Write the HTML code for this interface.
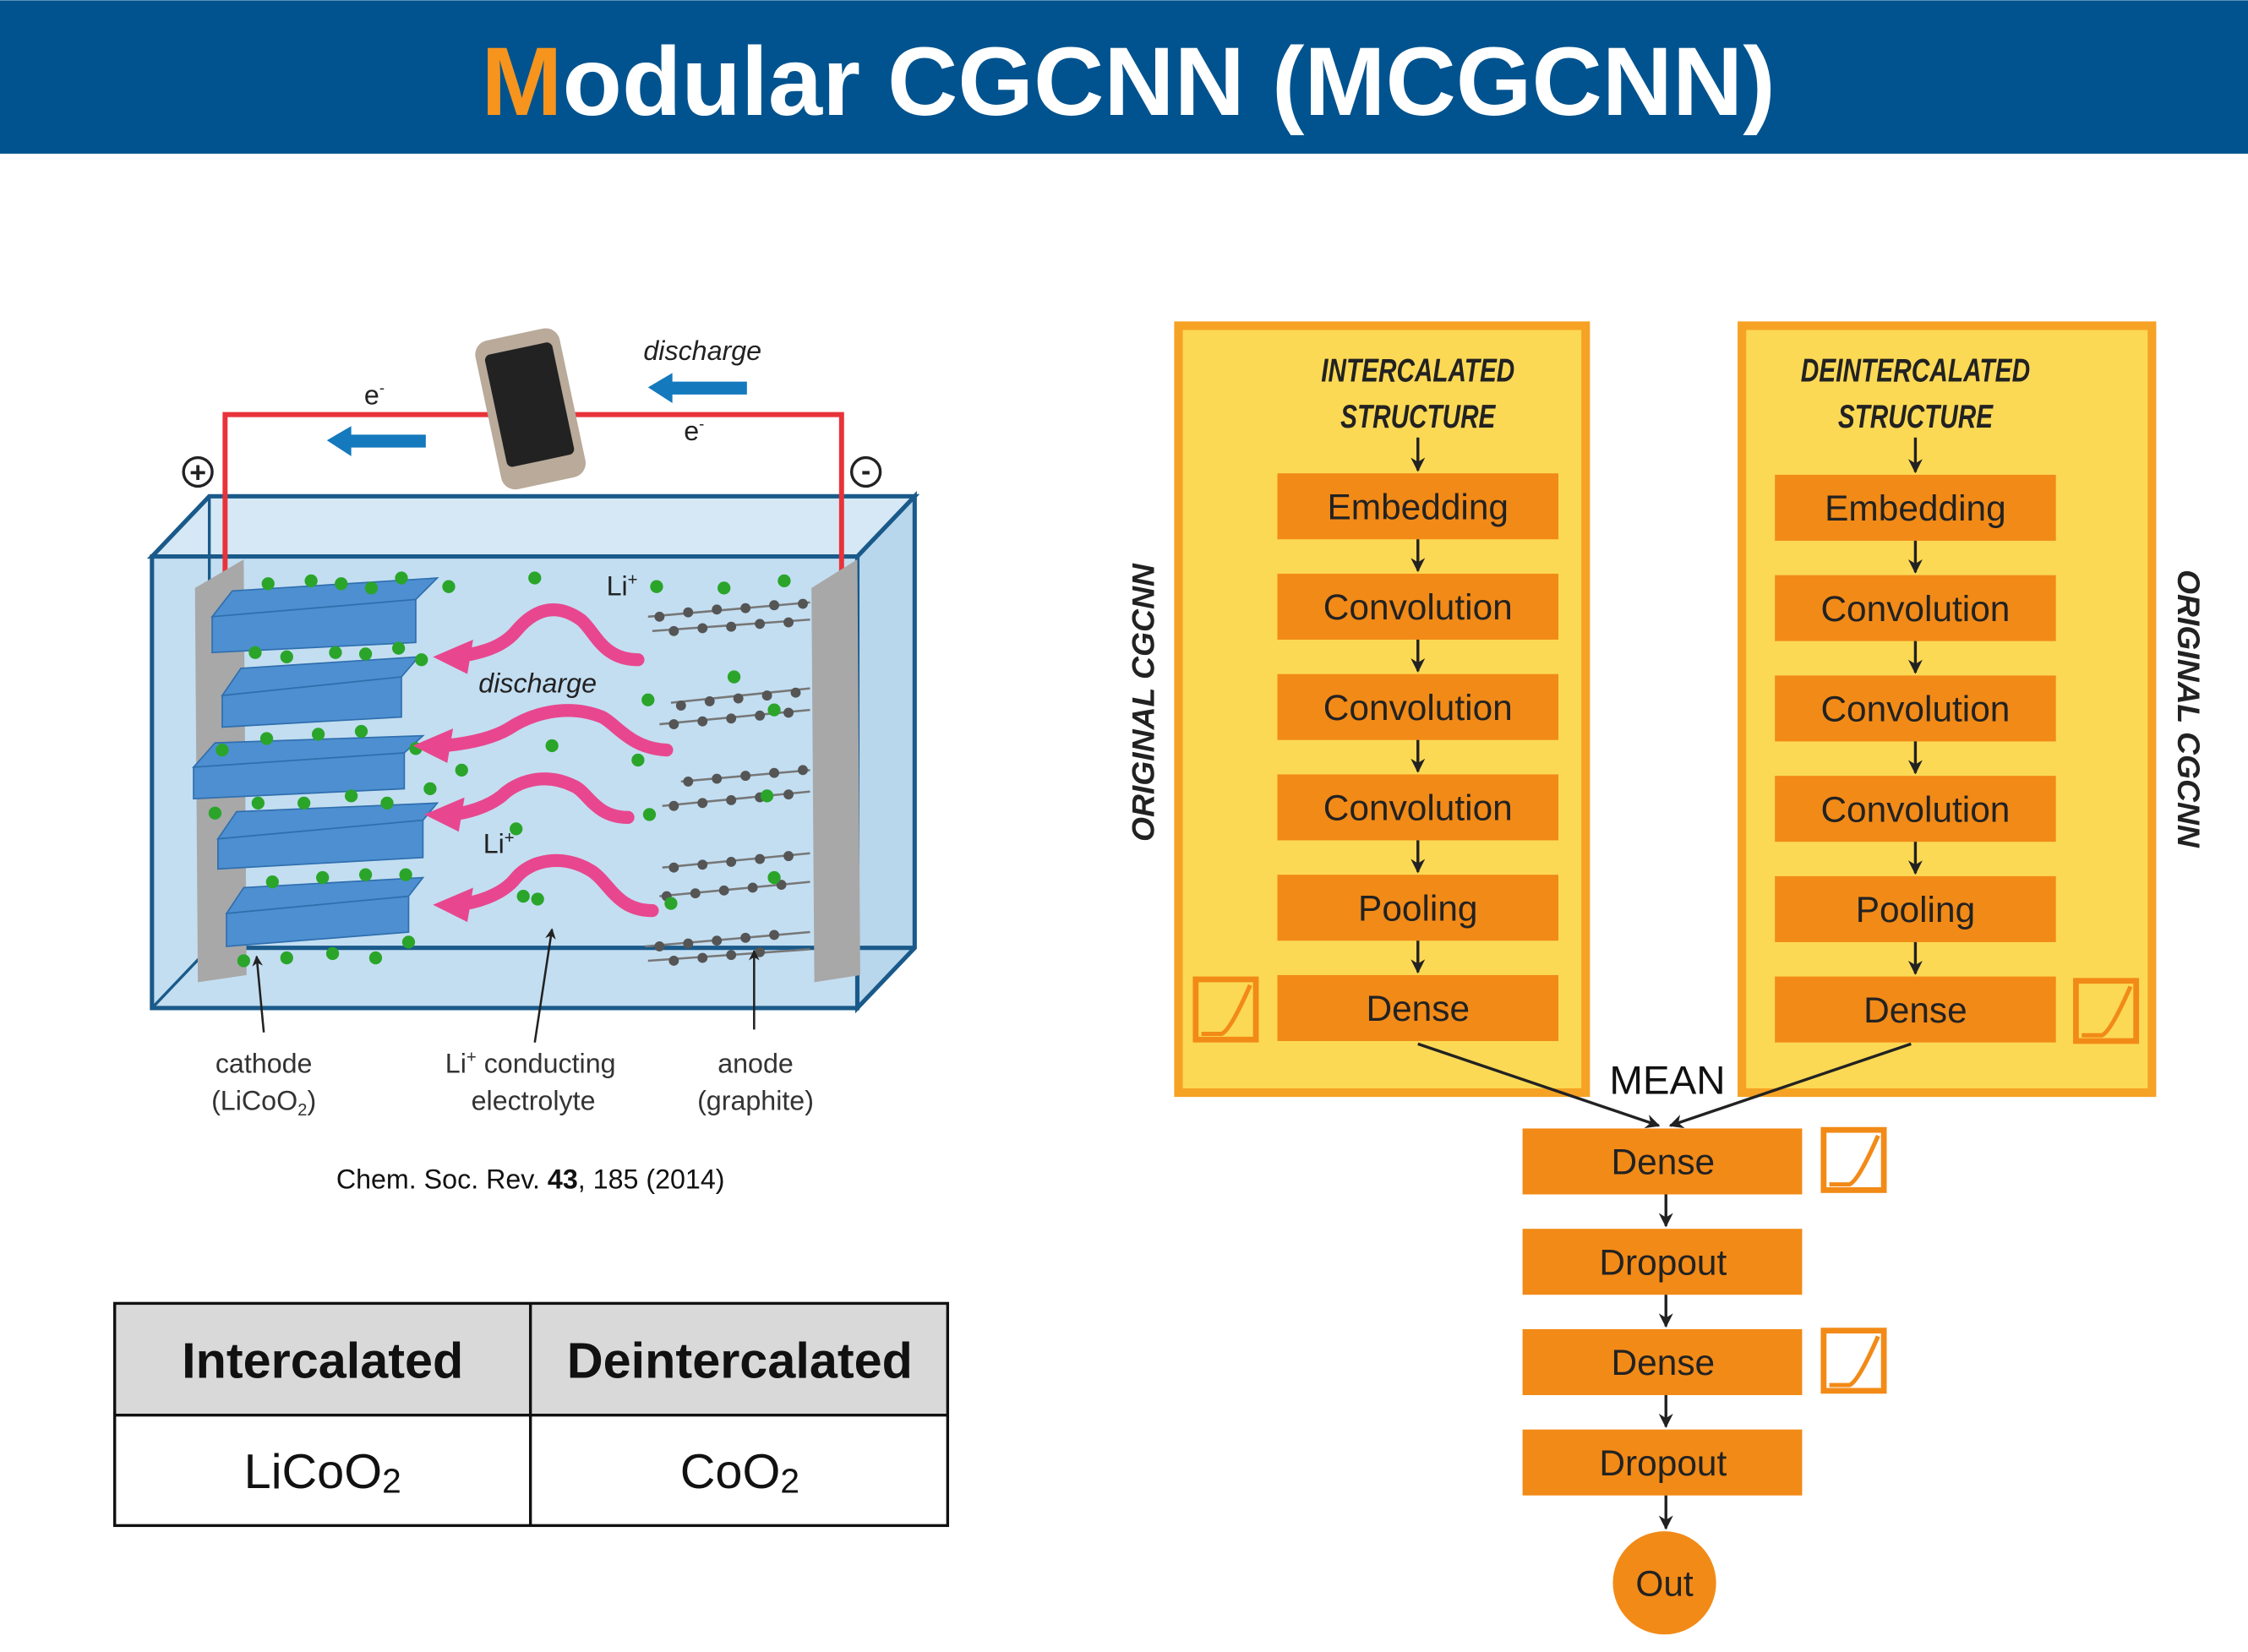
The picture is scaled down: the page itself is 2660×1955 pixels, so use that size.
<!DOCTYPE html>
<html><head><meta charset="utf-8"><style>
html,body{margin:0;padding:0;background:#fff;}
svg{display:block;}
text{font-family:"Liberation Sans",sans-serif;}
.blk{fill:#f28a17;}
.bt{font-size:25px;fill:#222;text-anchor:middle;}
.arr{stroke:#222;stroke-width:2;}
.act{fill:none;stroke:#f28a17;stroke-width:4;}
.actc{fill:none;stroke:#f28a17;stroke-width:3;}
</style></head><body>
<svg width="2660" height="1955" viewBox="0 0 1568 1152" xmlns="http://www.w3.org/2000/svg">
<defs>
<marker id="ah" viewBox="0 0 10 10" refX="9" refY="5" markerWidth="5" markerHeight="5" orient="auto"><path d="M0,0 L10,5 L0,10 L3,5 z" fill="#222"/></marker>
</defs>
<rect x="0" y="0" width="1568" height="107" fill="#00538f"/>
<text x="787" y="80" text-anchor="middle" font-size="68" font-weight="bold" fill="#fff"><tspan fill="#f7941d">M</tspan>odular CGCNN (MCGCNN)</text>

<g>
<polygon points="106,388 146,346 638,346 598,388" fill="#d6e8f5" stroke="#1a5a8a" stroke-width="3"/>
<polygon points="598,388 638,346 638,661 598,703" fill="#b8d6ec" stroke="#1a5a8a" stroke-width="3"/>
<rect x="106" y="388" width="492" height="315" fill="#c3def1" stroke="#1a5a8a" stroke-width="3"/>
<line x1="146" y1="346" x2="146" y2="661" stroke="#1a5a8a" stroke-width="2"/>
<line x1="146" y1="661" x2="638" y2="661" stroke="#1a5a8a" stroke-width="3"/>
<line x1="106" y1="703" x2="146" y2="661" stroke="#1a5a8a" stroke-width="2"/>
<polyline points="157,400 157,289 587,289 587,400" fill="none" stroke="#e8333a" stroke-width="3.5"/>
<polygon points="136,410 170,390 172,680 138,685" fill="#a8a8a8"/>
<polygon points="566,410 598,390 600,680 568,685" fill="#a8a8a8"/>
<g fill="#4d8fd1" stroke="#2f6fae" stroke-width="1">
<polygon points="148,430 290,418 305,403 162,412"/><polygon points="148,430 290,418 290,448 148,455"/>
<polygon points="155,485 280,472 292,458 168,466"/><polygon points="155,485 280,472 280,500 155,507"/>
<polygon points="135,535 282,525 295,513 150,518"/><polygon points="135,535 282,525 282,550 135,557"/>
<polygon points="152,585 295,572 305,560 165,566"/><polygon points="152,585 295,572 295,598 152,606"/>
<polygon points="158,637 285,625 295,612 170,619"/><polygon points="158,637 285,625 285,650 158,660"/>
</g>
<g stroke="#777" stroke-width="1.5" fill="none">
<path d="M452,430 L565,420 M455,440 L565,432 M468,490 L565,480 M460,505 L565,495 M475,545 L565,537 M462,562 L565,552 M462,605 L565,595 M460,625 L565,615 M450,660 L565,650 M452,670 L565,662"/>
</g>
<g fill="#555">
<circle cx="460" cy="430" r="3.5"/><circle cx="480" cy="427" r="3.5"/><circle cx="500" cy="425" r="3.5"/><circle cx="520" cy="424" r="3.5"/><circle cx="540" cy="422" r="3.5"/><circle cx="560" cy="421" r="3.5"/>
<circle cx="470" cy="440" r="3.5"/><circle cx="490" cy="438" r="3.5"/><circle cx="510" cy="437" r="3.5"/><circle cx="530" cy="435" r="3.5"/><circle cx="550" cy="434" r="3.5"/>
<circle cx="475" cy="492" r="3.5"/><circle cx="495" cy="489" r="3.5"/><circle cx="515" cy="487" r="3.5"/><circle cx="535" cy="485" r="3.5"/><circle cx="555" cy="483" r="3.5"/>
<circle cx="470" cy="505" r="3.5"/><circle cx="490" cy="503" r="3.5"/><circle cx="510" cy="501" r="3.5"/><circle cx="530" cy="499" r="3.5"/><circle cx="550" cy="497" r="3.5"/>
<circle cx="480" cy="545" r="3.5"/><circle cx="500" cy="543" r="3.5"/><circle cx="520" cy="541" r="3.5"/><circle cx="540" cy="539" r="3.5"/><circle cx="560" cy="537" r="3.5"/>
<circle cx="470" cy="562" r="3.5"/><circle cx="490" cy="560" r="3.5"/><circle cx="510" cy="558" r="3.5"/><circle cx="530" cy="556" r="3.5"/><circle cx="550" cy="554" r="3.5"/>
<circle cx="470" cy="605" r="3.5"/><circle cx="490" cy="603" r="3.5"/><circle cx="510" cy="601" r="3.5"/><circle cx="530" cy="599" r="3.5"/><circle cx="550" cy="597" r="3.5"/>
<circle cx="465" cy="625" r="3.5"/><circle cx="485" cy="623" r="3.5"/><circle cx="505" cy="621" r="3.5"/><circle cx="525" cy="619" r="3.5"/><circle cx="545" cy="617" r="3.5"/>
<circle cx="460" cy="660" r="3.5"/><circle cx="480" cy="658" r="3.5"/><circle cx="500" cy="656" r="3.5"/><circle cx="520" cy="654" r="3.5"/><circle cx="540" cy="652" r="3.5"/>
<circle cx="470" cy="670" r="3.5"/><circle cx="490" cy="668" r="3.5"/><circle cx="510" cy="666" r="3.5"/><circle cx="530" cy="664" r="3.5"/>
</g>
<g fill="#2aa52a">
<circle cx="187" cy="407" r="4.5"/><circle cx="217" cy="405" r="4.5"/><circle cx="238" cy="407" r="4.5"/><circle cx="259" cy="410" r="4.5"/><circle cx="280" cy="403" r="4.5"/><circle cx="313" cy="409" r="4.5"/><circle cx="373" cy="403" r="4.5"/><circle cx="458" cy="409" r="4.5"/>
<circle cx="178" cy="455" r="4.5"/><circle cx="200" cy="458" r="4.5"/><circle cx="234" cy="455" r="4.5"/><circle cx="255" cy="456" r="4.5"/><circle cx="278" cy="452" r="4.5"/><circle cx="294" cy="460" r="4.5"/>
<circle cx="186" cy="515" r="4.5"/><circle cx="222" cy="512" r="4.5"/><circle cx="252" cy="510" r="4.5"/><circle cx="290" cy="522" r="4.5"/><circle cx="322" cy="537" r="4.5"/><circle cx="385" cy="520" r="4.5"/>
<circle cx="155" cy="523" r="4.5"/><circle cx="180" cy="560" r="4.5"/><circle cx="212" cy="560" r="4.5"/><circle cx="245" cy="555" r="4.5"/><circle cx="270" cy="560" r="4.5"/><circle cx="300" cy="550" r="4.5"/>
<circle cx="150" cy="567" r="4.5"/><circle cx="190" cy="615" r="4.5"/><circle cx="225" cy="612" r="4.5"/><circle cx="255" cy="610" r="4.5"/><circle cx="283" cy="610" r="4.5"/><circle cx="360" cy="578" r="4.5"/><circle cx="365" cy="625" r="4.5"/>
<circle cx="170" cy="670" r="4.5"/><circle cx="200" cy="668" r="4.5"/><circle cx="232" cy="665" r="4.5"/><circle cx="262" cy="668" r="4.5"/><circle cx="285" cy="657" r="4.5"/><circle cx="375" cy="627" r="4.5"/>
<circle cx="452" cy="488" r="4.5"/><circle cx="445" cy="530" r="4.5"/><circle cx="453" cy="568" r="4.5"/><circle cx="468" cy="630" r="4.5"/><circle cx="512" cy="472" r="4.5"/><circle cx="540" cy="495" r="4.5"/><circle cx="535" cy="555" r="4.5"/><circle cx="540" cy="612" r="4.5"/><circle cx="505" cy="410" r="4.5"/><circle cx="547" cy="405" r="4.5"/>
</g>
<g fill="none" stroke="#e8478f" stroke-width="9" stroke-linecap="round">
<path d="M445,460 C420,460 415,440 405,432 C385,418 370,428 360,440 C350,452 335,455 320,458"/>
<path d="M465,523 C440,522 430,505 420,500 C395,490 370,498 355,508 C345,514 330,518 310,520"/>
<path d="M438,570 C415,570 410,552 400,548 C380,538 360,545 350,555 C340,563 325,567 315,568"/>
<path d="M455,635 C430,635 425,615 412,607 C392,595 370,600 360,612 C350,625 330,630 318,631"/>
</g>
<g fill="#e8478f">
<polygon points="302,458 330,446 326,470"/><polygon points="288,520 316,508 312,532"/><polygon points="296,568 324,556 320,580"/><polygon points="302,631 330,619 326,643"/>
</g>
<text x="375" y="483" text-anchor="middle" font-size="19" font-style="italic" fill="#222">discharge</text>
<text x="423" y="415" font-size="19" fill="#222">Li<tspan font-size="12" dy="-7">+</tspan></text>
<text x="337" y="595" font-size="19" fill="#222">Li<tspan font-size="12" dy="-7">+</tspan></text>
<g>
<rect x="340" y="232" width="60" height="106" rx="10" fill="#b9aa9a" transform="rotate(-12 370 285)"/>
<rect x="346" y="242" width="48" height="80" rx="4" fill="#222" transform="rotate(-12 370 285)"/>
</g>
<polygon points="228,307 245,297 245,303 297,303 297,312 245,312 245,318" fill="#1479bd"/>
<polygon points="452,270 469,260 469,266 521,266 521,275 469,275 469,281" fill="#1479bd"/>
<text x="490" y="251" text-anchor="middle" font-size="19" font-style="italic" fill="#222">discharge</text>
<text x="254" y="282" font-size="19" fill="#222">e<tspan font-size="11" dy="-8">-</tspan></text>
<text x="477" y="307" font-size="19" fill="#222">e<tspan font-size="11" dy="-8">-</tspan></text>
<circle cx="138" cy="329" r="10" fill="#fff" stroke="#222" stroke-width="2"/><text x="138" y="336" text-anchor="middle" font-size="20" font-weight="bold" fill="#222">+</text>
<circle cx="604" cy="329" r="10" fill="#fff" stroke="#222" stroke-width="2"/><text x="604" y="335" text-anchor="middle" font-size="20" font-weight="bold" fill="#222">-</text>
<g stroke="#222" stroke-width="1.5" marker-end="url(#ah)">
<line x1="184" y1="720" x2="179" y2="667"/><line x1="373" y1="727" x2="385" y2="648"/><line x1="526" y1="718" x2="526" y2="663"/>
</g>
<text x="184" y="748" text-anchor="middle" font-size="19" fill="#333">cathode</text>
<text x="184" y="774" text-anchor="middle" font-size="19" fill="#333">(LiCoO<tspan font-size="12" dy="4">2</tspan><tspan dy="-4">)</tspan></text>
<text x="370" y="748" text-anchor="middle" font-size="19" fill="#333">Li<tspan font-size="12" dy="-7">+</tspan><tspan dy="7"> conducting</tspan></text>
<text x="372" y="774" text-anchor="middle" font-size="19" fill="#333">electrolyte</text>
<text x="527" y="748" text-anchor="middle" font-size="19" fill="#333">anode</text>
<text x="527" y="774" text-anchor="middle" font-size="19" fill="#333">(graphite)</text>
</g>
<text x="370" y="829" text-anchor="middle" font-size="19" fill="#111">Chem. Soc. Rev. <tspan font-weight="bold">43</tspan>, 185 (2014)</text>

<g>
<rect x="80" y="909" width="581" height="78" fill="#d9d9d9"/>
<rect x="80" y="909" width="581" height="155" fill="none" stroke="#111" stroke-width="2"/>
<line x1="80" y1="987" x2="661" y2="987" stroke="#111" stroke-width="2"/>
<line x1="370" y1="909" x2="370" y2="1064" stroke="#111" stroke-width="2"/>
<text x="225" y="961" text-anchor="middle" font-size="35" font-weight="bold" fill="#111">Intercalated</text>
<text x="516" y="961" text-anchor="middle" font-size="35" font-weight="bold" fill="#111">Deintercalated</text>
<text x="225" y="1038" text-anchor="middle" font-size="34" fill="#111">LiCoO<tspan font-size="24" dy="3">2</tspan></text>
<text x="516" y="1038" text-anchor="middle" font-size="34" fill="#111">CoO<tspan font-size="24" dy="3">2</tspan></text>
</g>

<g>
<rect x="822" y="227" width="284" height="535" fill="#fcd955" stroke="#f6a225" stroke-width="6"/>
<rect x="1215" y="227" width="286" height="535" fill="#fcd955" stroke="#f6a225" stroke-width="6"/>
<text transform="translate(805 490) rotate(-90)" text-anchor="middle" font-size="22" font-weight="bold" font-style="italic" fill="#222">ORIGINAL CGCNN</text>
<text transform="translate(1519 494) rotate(90)" text-anchor="middle" font-size="22" font-weight="bold" font-style="italic" fill="#222">ORIGINAL CGCNN</text>
<g font-size="23" font-weight="bold" font-style="italic" fill="#222" text-anchor="middle" font-family="Liberation Sans Narrow, Liberation Sans, sans-serif">
<text x="989" y="266" textLength="135" lengthAdjust="spacingAndGlyphs">INTERCALATED</text>
<text x="989" y="298" textLength="108" lengthAdjust="spacingAndGlyphs">STRUCTURE</text>
<text x="1336" y="266" textLength="160" lengthAdjust="spacingAndGlyphs">DEINTERCALATED</text>
<text x="1336" y="298" textLength="108" lengthAdjust="spacingAndGlyphs">STRUCTURE</text>
</g>

<g>
<line class="arr" x1="989" y1="305" x2="989" y2="328" marker-end="url(#ah)"/>
<rect class="blk" x="891" y="330" width="196" height="46"/><text class="bt" x="989" y="362">Embedding</text>
<line class="arr" x1="989" y1="376" x2="989" y2="398" marker-end="url(#ah)"/>
<rect class="blk" x="891" y="400" width="196" height="46"/><text class="bt" x="989" y="432">Convolution</text>
<line class="arr" x1="989" y1="446" x2="989" y2="468" marker-end="url(#ah)"/>
<rect class="blk" x="891" y="470" width="196" height="46"/><text class="bt" x="989" y="502">Convolution</text>
<line class="arr" x1="989" y1="516" x2="989" y2="538" marker-end="url(#ah)"/>
<rect class="blk" x="891" y="540" width="196" height="46"/><text class="bt" x="989" y="572">Convolution</text>
<line class="arr" x1="989" y1="586" x2="989" y2="608" marker-end="url(#ah)"/>
<rect class="blk" x="891" y="610" width="196" height="46"/><text class="bt" x="989" y="642">Pooling</text>
<line class="arr" x1="989" y1="656" x2="989" y2="678" marker-end="url(#ah)"/>
<rect class="blk" x="891" y="680" width="196" height="46"/><text class="bt" x="989" y="712">Dense</text>
</g>
<g>
<line class="arr" x1="1336" y1="305" x2="1336" y2="329" marker-end="url(#ah)"/>
<rect class="blk" x="1238" y="331" width="196" height="46"/><text class="bt" x="1336" y="363">Embedding</text>
<line class="arr" x1="1336" y1="377" x2="1336" y2="399" marker-end="url(#ah)"/>
<rect class="blk" x="1238" y="401" width="196" height="46"/><text class="bt" x="1336" y="433">Convolution</text>
<line class="arr" x1="1336" y1="447" x2="1336" y2="469" marker-end="url(#ah)"/>
<rect class="blk" x="1238" y="471" width="196" height="46"/><text class="bt" x="1336" y="503">Convolution</text>
<line class="arr" x1="1336" y1="517" x2="1336" y2="539" marker-end="url(#ah)"/>
<rect class="blk" x="1238" y="541" width="196" height="46"/><text class="bt" x="1336" y="573">Convolution</text>
<line class="arr" x1="1336" y1="587" x2="1336" y2="609" marker-end="url(#ah)"/>
<rect class="blk" x="1238" y="611" width="196" height="46"/><text class="bt" x="1336" y="643">Pooling</text>
<line class="arr" x1="1336" y1="657" x2="1336" y2="679" marker-end="url(#ah)"/>
<rect class="blk" x="1238" y="681" width="196" height="46"/><text class="bt" x="1336" y="713">Dense</text>
</g>

<g>
<rect class="act" x="834" y="683" width="42" height="42"/><path class="actc" d="M838,721 L852,721 Q858,719 872,687"/>
<rect class="act" x="1448" y="684" width="42" height="42"/><path class="actc" d="M1452,722 L1466,722 Q1472,720 1486,688"/>
<rect class="act" x="1272" y="788" width="42" height="42"/><path class="actc" d="M1276,826 L1290,826 Q1296,824 1310,792"/>
<rect class="act" x="1272" y="928" width="42" height="42"/><path class="actc" d="M1276,966 L1290,966 Q1296,964 1310,932"/>
</g>

<line x1="989" y1="728" x2="1157" y2="785" stroke="#222" stroke-width="2" marker-end="url(#ah)"/>
<line x1="1333" y1="728" x2="1165" y2="785" stroke="#222" stroke-width="2" marker-end="url(#ah)"/>
<text x="1163" y="763" text-anchor="middle" font-size="28" fill="#111">MEAN</text>

<g>
<rect class="blk" x="1062" y="787" width="195" height="46"/><text class="bt" x="1160" y="819">Dense</text>
<line class="arr" x1="1162" y1="833" x2="1162" y2="855" marker-end="url(#ah)"/>
<rect class="blk" x="1062" y="857" width="195" height="46"/><text class="bt" x="1160" y="889">Dropout</text>
<line class="arr" x1="1162" y1="903" x2="1162" y2="925" marker-end="url(#ah)"/>
<rect class="blk" x="1062" y="927" width="195" height="46"/><text class="bt" x="1160" y="959">Dense</text>
<line class="arr" x1="1162" y1="973" x2="1162" y2="995" marker-end="url(#ah)"/>
<rect class="blk" x="1062" y="997" width="195" height="46"/><text class="bt" x="1160" y="1029">Dropout</text>
<line class="arr" x1="1162" y1="1043" x2="1162" y2="1066" marker-end="url(#ah)"/>
</g>
<circle cx="1161" cy="1104" r="36" fill="#f28a17"/>
<text x="1161" y="1113" text-anchor="middle" font-size="25" fill="#222">Out</text>
</g>
</svg>
</body></html>
